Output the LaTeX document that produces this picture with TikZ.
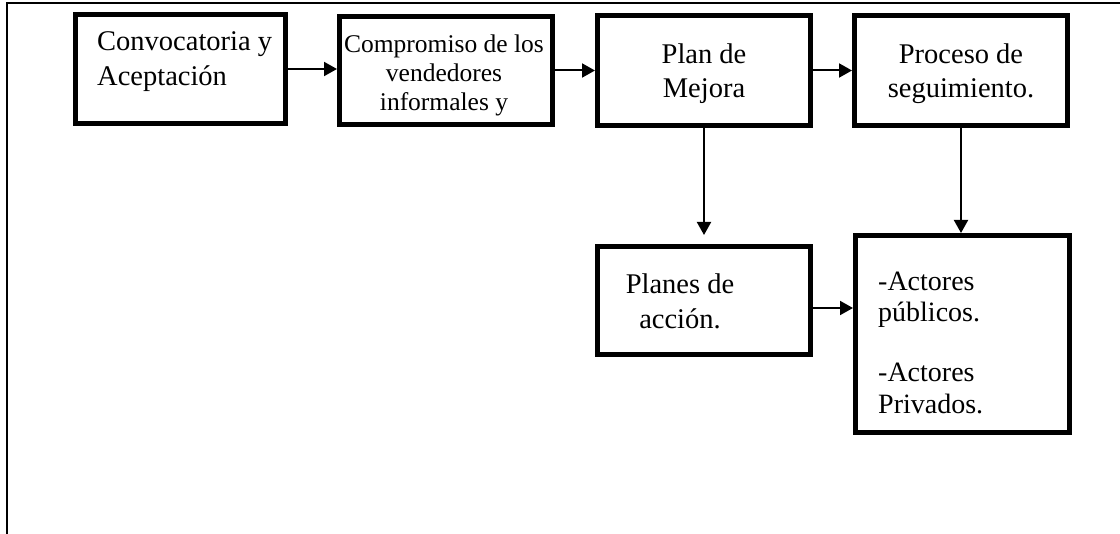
\documentclass[tikz,border=0pt]{standalone}
\usepackage{fontspec}
\setmainfont{Liberation Serif}
\usetikzlibrary{arrows.meta}
\begin{document}
\begin{tikzpicture}[x=1pt,y=-1pt,
  box/.style={draw=black,line width=5pt,inner sep=0pt,rectangle},
  arr/.style={draw=black,line width=2pt,-{Triangle[length=13pt,width=14pt]}},
  frame/.style={draw=black,line width=1.6pt},
  bigtxt/.style={inner sep=0pt,font=\fontsize{28.5}{35}\selectfont},
  midtxt/.style={inner sep=0pt,font=\fontsize{28.5}{34}\selectfont},
  smalltxt/.style={inner sep=0pt,font=\fontsize{25.5}{29}\selectfont},
  acttxt/.style={inner sep=0pt,font=\fontsize{28}{31.5}\selectfont}]
\useasboundingbox (0,0) rectangle (1120,534);
\fill[white] (0,0) rectangle (1120,534);
% frame
\coordinate (fbl) at (7,534);
\coordinate (ftl) at (7,3);
\coordinate (ftr) at (1120,3);
\draw[frame] (fbl) -- (ftl) -- (ftr);
% boxes
\node[box,minimum width=210pt,minimum height=109pt] (b1) at (180.5,69) {};
\node[box,minimum width=213pt,minimum height=108pt] (b2) at (446,70.5) {};
\node[box,minimum width=213pt,minimum height=110pt] (b3) at (704,70.5) {};
\node[box,minimum width=213pt,minimum height=110pt] (b4) at (961,70.5) {};
\node[box,minimum width=213pt,minimum height=108pt] (pa) at (704,300.5) {};
\node[box,minimum width=214pt,minimum height=197pt] (act) at (962.5,334) {};
% texts
\node[bigtxt,anchor=north west,align=left] (t1) at (97,25.5)
  {\strut Convocatoria y\\\strut Aceptación};
\node[smalltxt,anchor=north,align=center] (t2) at (444,31.7)
  {\strut Compromiso de los\\\strut vendedores\\\strut informales y};
\node[midtxt,anchor=north,align=center] (t3) at (704,39.2)
  {\strut Plan de\\\strut Mejora};
\node[midtxt,anchor=north,align=center] (t4) at (961,39.2)
  {\strut Proceso de\\\strut seguimiento.};
\node[bigtxt,anchor=north,align=center] (t5) at (680,268.5)
  {\strut Planes de\\\strut acción.};
\node[acttxt,anchor=north west,align=left] (t6) at (878,268)
  {\strut -Actores\\\strut públicos.\\[28.5pt]\strut -Actores\\\strut Privados.};
% connectors
\draw[arr] (b1.east) -- (b1.east -| b2.west);
\draw[arr] (b2.east) -- (b3.west);
\draw[arr] (b3.east) -- (b4.west);
\draw[arr,shorten >=9pt] (b3.south) -- (pa.north);
\draw[arr] (b4.south) -- (b4.south |- act.north);
\draw[arr] ([yshift=-7.5pt]pa.east) -- ([yshift=-7.5pt]pa.east -| act.west);
\end{tikzpicture}
\end{document}
